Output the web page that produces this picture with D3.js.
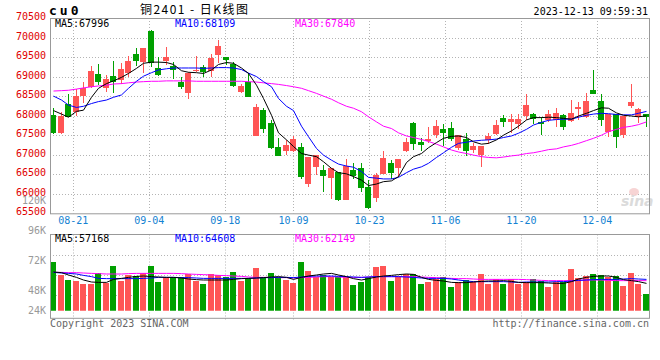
<!DOCTYPE html>
<html><head><meta charset="utf-8">
<script src="https://cdn.jsdelivr.net/npm/d3@7"></script>
<style>
body{margin:0;background:#fff}
svg{display:block}
text{font-family:"DejaVu Sans Mono",monospace;font-size:10px}
</style>
</head><body>
<svg id="c" width="660" height="360"></svg>
<script>
// ---------------- data ----------------
const dates = ["08-16","08-17","08-18","08-21","08-22","08-23","08-24","08-25","08-28","08-29","08-30","08-31",
"09-01","09-04","09-05","09-06","09-07","09-08","09-11","09-12","09-13","09-14","09-15","09-18","09-19","09-20","09-21","09-22","09-25","09-26","09-27","09-28",
"10-09","10-10","10-11","10-12","10-13","10-16","10-17","10-18","10-19","10-20","10-23","10-24","10-25","10-26","10-27","10-30","10-31",
"11-01","11-02","11-03","11-06","11-07","11-08","11-09","11-10","11-13","11-14","11-15","11-16","11-17","11-20","11-21","11-22","11-23","11-24","11-27","11-28","11-29","11-30",
"12-01","12-04","12-05","12-06","12-07","12-08","12-11","12-12","12-13"];
const open  = [68010,67550,68310,68100,68500,68740,69060,68720,69010,68910,69080,69570,69380,70160,69210,69400,69270,68870,68590,69150,
69250,69150,69550,69490,69320,68610,68870,67480,68140,67820,67210,67100,67100,67210,66250,66680,66610,66400,66570,65850,
66610,66670,66180,65880,66510,66800,66670,67090,67820,67330,67360,67500,67650,67690,67180,67400,67120,66990,67380,67530,
67950,67840,67780,67990,68030,67830,67890,67890,68010,67870,68160,67970,68650,68370,67590,68040,67500,68240,67970,68030];
const high  = [68190,68100,68550,68680,68870,69270,69320,69040,69400,69340,69530,69720,69740,70200,69490,69760,69380,68990,69120,69520,
69290,69590,69930,69510,69380,68820,69100,68290,68190,67890,67440,67380,67480,67310,66950,66980,66740,66650,66570,66880,
66780,66780,66350,66520,67100,66860,66900,67440,67840,67440,67720,67900,67780,67840,67500,67550,67290,67230,67550,67900,
68010,68030,68040,68550,68060,67970,68140,68190,68040,68400,68360,68590,69170,68550,68040,68040,68000,68810,68190,68030];
const low   = [67530,67530,67960,68000,68330,68700,68780,68610,68590,68820,68980,69280,69100,69250,69020,69290,68930,68680,68420,69120,
68990,68990,69340,69290,68740,68570,68480,67480,67560,67140,66970,66990,67080,66380,66180,66480,66040,65870,65820,65850,
66370,66050,65600,65800,66510,66370,66440,67070,67120,67100,67290,67420,67220,67360,67120,66970,67050,66690,67270,67500,
67700,67550,67670,67890,67780,67500,67840,67720,67630,67840,67890,67930,68550,67730,67460,67180,67440,68190,67800,67720];
const close = [67550,67990,67970,68500,68700,69150,68850,68930,68870,69190,69400,69400,69720,69340,69040,69490,69180,68740,69100,69170,
69120,69480,69790,69420,68760,68760,68480,68230,67670,67160,66970,67250,67390,66440,66950,66980,66460,66650,65840,66720,
66450,66140,65630,66480,66920,66520,66900,67320,67270,67260,67410,67730,67560,67390,67500,67100,67230,67230,67490,67760,
67840,67910,67910,68270,67910,67780,68040,68080,67700,68080,68210,68370,68550,67900,68040,67460,68000,68360,68160,67960];
const ma5   = [68130,68040,67960,68110,68140,68470,68700,68820,68890,68980,69080,69210,69340,69370,69370,69360,69310,69150,69110,69100,
69080,69170,69310,69360,69340,69220,69080,68780,68440,68010,67560,67380,67210,67030,66990,66950,66820,66650,66540,66510,
66440,66350,66210,66250,66310,66330,66440,66800,66950,67030,67180,67310,67420,67470,67480,67440,67330,67270,67290,67380,
67500,67610,67730,67890,67950,67950,67960,67950,67930,67910,67990,68060,68130,68200,68190,68070,68010,67990,67970,67996];
const ma10  = [68500,68400,68270,68210,68240,68310,68360,68400,68470,68530,68700,68880,69010,69100,69170,69200,69220,69220,69220,69220,
69210,69220,69230,69230,69220,69180,69090,69000,68870,68740,68440,68240,68130,67730,67460,67160,66990,66860,66760,66710,
66680,66570,66420,66400,66380,66380,66420,66540,66630,66690,66780,66930,67050,67190,67290,67320,67350,67370,67380,67400,
67440,67480,67550,67650,67760,67830,67880,67900,67910,67910,67960,68010,68040,68060,68050,68030,68020,68020,68060,68109];
const ma30  = [68630,68640,68650,68680,68710,68740,68760,68780,68810,68820,68840,68860,68870,68880,68880,68890,68890,68890,68890,68880,
68880,68880,68880,68880,68880,68880,68870,68860,68840,68820,68800,68770,68740,68700,68640,68570,68500,68420,68330,68240,
68190,68100,67970,67840,67730,67670,67560,67480,67440,67390,67340,67270,67200,67120,67070,67030,66990,66950,66930,66920,
66940,66970,66990,67030,67050,67090,67130,67150,67200,67240,67290,67360,67420,67500,67590,67650,67700,67730,67770,67840];
const volume = [70400,60000,56000,55200,52800,52800,61300,53900,67200,55200,60000,59200,61300,67200,54400,58700,58700,58100,60800,55200,
52800,60800,60000,58100,62100,55200,57300,65600,57900,61900,58700,56000,53900,70400,63200,58700,60000,58700,58100,58700,
52000,54700,58700,66700,67500,55200,58100,60800,60800,52800,54400,56500,58100,50700,54400,56000,54400,60800,52800,56500,
52800,56500,52800,54700,56500,55200,50700,54700,54700,64800,57600,59200,60800,60000,58700,59200,51200,61900,52800,44800];
const vma5  = [62400,61900,60000,58100,56000,54400,54100,54100,56500,57300,58100,58900,59200,58700,58400,58100,58100,57600,56800,56300,
56000,56000,56000,56000,56500,57100,57300,57600,57900,58400,58700,58100,56500,58100,59200,60000,60800,61300,60000,58700,
57100,56000,57100,58400,59200,59700,60300,60800,60500,58100,56500,55700,55200,54100,53900,53900,54400,54900,55200,55200,
55500,54900,54100,53900,53900,53900,53600,53300,53300,54700,56800,58100,58900,59200,59200,58100,56300,55500,54700,53300];
const vma10 = [62100,61600,61300,60800,59700,58700,57300,57100,57100,57100,57100,57100,57300,57600,58100,58100,58100,57900,57900,57600,
57300,57300,57300,57300,57300,57300,57300,57600,57900,57900,58100,58100,57900,58400,58900,59200,59200,59200,58900,58700,
58400,58100,58400,58700,58700,58700,58700,58400,58100,57600,57300,57300,57300,56800,56000,55200,54700,54700,54700,54700,
54700,54400,54100,54400,54400,54400,54400,54700,54700,55200,55700,56000,56300,56500,56500,56500,56800,57100,56800,56500];
const vma30 = [62100,62100,61900,61900,61600,61300,61100,60800,60800,60800,61100,61300,61300,61300,61300,61300,61300,61100,60800,60500,
60300,60000,59700,59500,59200,58900,58400,58100,58100,58100,57900,57900,57600,57900,58100,58400,58700,58700,58400,58100,
58100,58100,58400,58700,58700,58700,58700,58700,58700,58400,58100,57900,57600,57300,57100,57100,56800,56500,56500,56500,
56500,56500,56500,56300,56000,55700,55500,55500,55500,55500,55700,56000,56000,56000,55700,55500,55500,55500,55500,55500];
const priceTicks = [65500,66000,66500,67000,67500,68000,68500,69000,69500,70000,70500];
const volTicks = [24000,48000,72000,96000,120000];
const dateTicks = ["08-21","09-04","09-18","10-09","10-23","11-06","11-20","12-04"];
const priceMALabels = ["MA5:67996","MA10:68109","MA30:67840"];
const volMALabels = ["MA5:57168","MA10:64608","MA30:62149"];
const titleCode = "cu0";
const titleName = "铜2401 - 日K线图";
const stamp = "2023-12-13 09:59:31";

// ---------------- drawing ----------------
const UP = "#ff5555", DOWN = "#00a000", GRID = "#b4b4b4", FRAME = "#999";
const maColors = ["#000000", "#0000ff", "#ff00ff"];
const svg = d3.select("#c");
const L = 50, R = 650, mTop = 18, mBot = 213.3, vTop = 234.5, vBot = 318.3, vBase = 310.7;

const x = d3.scaleBand().domain(dates).range([L, R]);
const xg = d3.scalePoint().domain(dates).range([L, R]);
const y = d3.scaleLinear().domain([65500, 70500]).range([mBot, mTop]);
const yv = d3.scaleLinear().domain([0, 120000]).range([350, 200]);
const cx = i => Math.floor(x(dates[i]) + 0.5);

const defs = svg.append("defs");
defs.append("clipPath").attr("id","mclip").append("rect").attr("x",L).attr("y",mTop).attr("width",R-L).attr("height",mBot-mTop);
defs.append("clipPath").attr("id","vclip").append("rect").attr("x",L).attr("y",vTop).attr("width",R-L).attr("height",vBase-vTop);

// grid - main
const g = svg.append("g");
g.selectAll(".hg").data(priceTicks.slice(1,-1)).join("line")
  .attr("x1",L).attr("x2",R).attr("y1",d=>Math.round(y(d))+0.5).attr("y2",d=>Math.round(y(d))+0.5)
  .attr("stroke",GRID).attr("stroke-dasharray","1,2");
g.selectAll(".vg").data(dateTicks).join("line")
  .attr("x1",d=>Math.round(xg(d))+0.5).attr("x2",d=>Math.round(xg(d))+0.5)
  .attr("y1",mTop).attr("y2",mBot).attr("stroke",GRID).attr("stroke-dasharray","1,2");
// grid - volume
g.selectAll(".vhg").data(d3.range(1,4)).join("line")
  .attr("x1",L).attr("x2",R).attr("y1",i=>Math.round(vTop+i*20.3)+0.5).attr("y2",i=>Math.round(vTop+i*20.3)+0.5)
  .attr("stroke",GRID).attr("stroke-dasharray","1,2");
g.selectAll(".vvg").data(dateTicks).join("line")
  .attr("x1",d=>Math.round(xg(d))+0.5).attr("x2",d=>Math.round(xg(d))+0.5)
  .attr("y1",vTop).attr("y2",vBot+2).attr("stroke",GRID).attr("stroke-dasharray","1,2");

// watermark
const wm = svg.append("g").attr("opacity",0.9);
wm.append("ellipse").attr("cx",634).attr("cy",192).attr("rx",5).attr("ry",4).attr("fill","#f7d0d0");
wm.append("text").attr("x",621).attr("y",206).attr("fill","#d8d8d8")
  .style("font-family","DejaVu Sans").style("font-size","14px").style("font-style","italic").style("font-weight","bold").text("sina");

// candles
const cg = svg.append("g").attr("shape-rendering","crispEdges");
const idx = d3.range(dates.length);
cg.selectAll(".wick").data(idx).join("rect")
  .attr("x",i=>cx(i)+3).attr("width",1)
  .attr("y",i=>Math.round(y(high[i])))
  .attr("height",i=>Math.max(1,Math.round(y(low[i]))-Math.round(y(high[i]))))
  .attr("fill",i=>close[i]>=open[i]?UP:DOWN);
cg.selectAll(".body").data(idx).join("rect")
  .attr("x",i=>cx(i)).attr("width",6)
  .attr("y",i=>Math.round(y(Math.max(open[i],close[i]))))
  .attr("height",i=>Math.max(1,Math.round(y(Math.min(open[i],close[i])))-Math.round(y(Math.max(open[i],close[i])))))
  .attr("fill",i=>close[i]>=open[i]?UP:DOWN);

// MA lines main
const mline = d3.line().x((d,i)=>cx(i)+3.5).y(d=>y(d));
const mg = svg.append("g").attr("clip-path","url(#mclip)");
[ma30,ma10,ma5].forEach((s,j)=>{
  mg.append("path").attr("d",mline(s)).attr("fill","none").attr("stroke",maColors[2-j]).attr("stroke-width",1);
});

// volume bars
const vg = svg.append("g").attr("clip-path","url(#vclip)").attr("shape-rendering","crispEdges");
vg.selectAll("rect").data(idx).join("rect")
  .attr("x",i=>cx(i)).attr("width",6)
  .attr("y",i=>Math.round(yv(volume[i])))
  .attr("height",i=>Math.max(0,vBase+1-Math.round(yv(volume[i]))))
  .attr("fill",i=>close[i]>=open[i]?UP:DOWN);
const vline = d3.line().x((d,i)=>cx(i)+3.5).y(d=>yv(d));
[vma30,vma10,vma5].forEach((s,j)=>{
  vg.append("path").attr("d",vline(s)).attr("fill","none").attr("stroke",maColors[2-j]).attr("stroke-width",1).attr("shape-rendering","auto");
});

// frames
svg.append("rect").attr("x",L+0.5).attr("y",mTop+0.5).attr("width",R-L-1).attr("height",mBot-mTop)
  .attr("fill","none").attr("stroke",FRAME);
svg.append("rect").attr("x",L+0.5).attr("y",vTop).attr("width",R-L-1).attr("height",vBot-vTop)
  .attr("fill","none").attr("stroke",FRAME);

// price axis labels
const ay = svg.append("g").attr("transform",`translate(${L},0)`)
  .call(d3.axisLeft(y).tickValues(priceTicks).tickSize(0).tickPadding(4).tickFormat(d3.format("d")));
ay.select(".domain").remove();
ay.selectAll("text").attr("fill","#e00000").attr("dy","0.15em")
  .style("font-family","DejaVu Sans Mono").style("font-size","10px");

// volume axis labels
const av = svg.append("g").attr("transform",`translate(${L},0)`)
  .call(d3.axisLeft(yv).tickValues(volTicks).tickSize(0).tickPadding(4).tickFormat(d=>(d/1000)+"K"));
av.select(".domain").remove();
av.selectAll(".tick").attr("transform",d=>`translate(0,${Math.min(yv(d), vBase-1)})`);
av.selectAll("text").attr("fill","#999").attr("dy","0.43em")
  .style("font-family","DejaVu Sans Mono").style("font-size","10px");

// date axis labels
const ax = svg.append("g").attr("transform",`translate(0,${mBot})`)
  .call(d3.axisBottom(xg).tickValues(dateTicks).tickSize(0).tickPadding(4));
ax.select(".domain").remove();
ax.selectAll("text").attr("fill","#1482d2").style("font-family","DejaVu Sans Mono").style("font-size","10px");

// MA labels
const maX = [55,175,295];
svg.selectAll(".pml").data(priceMALabels).join("text")
  .attr("x",(d,i)=>maX[i]).attr("y",27).attr("fill",(d,i)=>maColors[i]).text(d=>d);
svg.selectAll(".vml").data(volMALabels).join("text")
  .attr("x",(d,i)=>maX[i]).attr("y",241.5).attr("fill",(d,i)=>maColors[i]).text(d=>d);

// titles
svg.append("text").attr("x",49).attr("y",15).attr("fill","#000")
  .style("font-size","13px").style("font-weight","bold").style("letter-spacing","3px").text(titleCode);
svg.append("text").attr("x",140).attr("y",14).attr("fill","#000")
  .attr("textLength",108).attr("lengthAdjust","spacing")
  .style("font-family","'Noto Sans CJK SC'").style("font-size","12px").text(titleName);
svg.append("text").attr("x",648).attr("y",15).attr("text-anchor","end").attr("fill","#000").text(stamp);
svg.append("text").attr("x",50).attr("y",327).attr("fill","#666").text("Copyright 2023 SINA.COM");
svg.append("text").attr("x",649).attr("y",327).attr("text-anchor","end").attr("fill","#666").text("http://finance.sina.com.cn");
</script>
</body></html>
